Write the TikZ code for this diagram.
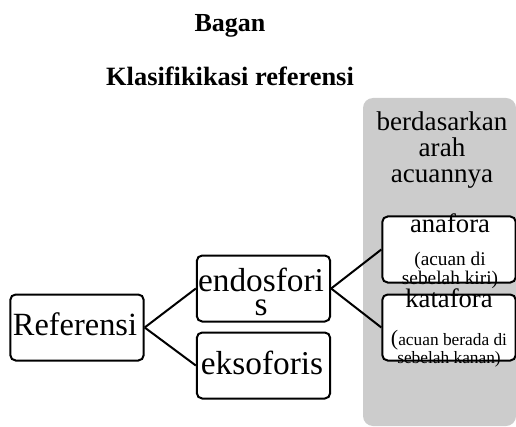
\documentclass[tikz,border=0pt]{standalone}
\usepackage{fontspec}
\setmainfont{Liberation Serif}
\definecolor{panelgray}{RGB}{204,204,204}
\lineskiplimit=-20pt
\tikzset{
  kotak/.style={draw, line width=1.5pt, rounded corners=4pt, fill=white,
    minimum width=100pt, minimum height=49.5pt, inner sep=0pt},
  teks/.style={inner sep=0pt, align=center},
  garis/.style={line width=1.5pt},
}
\begin{document}
\begin{tikzpicture}[x=0.75pt,y=-0.75pt]
      \useasboundingbox (0,0) rectangle (516,427);
      \fill[panelgray, rounded corners=7.5pt] (363,98) rectangle (516,426);
      % judul
      \node[anchor=base, font=\fontsize{19.5}{22}\selectfont\bfseries] (judul) at (230,32) {Bagan};
      \node[anchor=base, font=\fontsize{19.8}{22}\selectfont\bfseries] (subjudul) at (230,86) {Klasifikikasi referensi};
      \node[teks, anchor=north, font=\fontsize{20.3}{19.5}\selectfont] (arah) at (442,111.5) {berdasarkan\\arah\\acuannya};
      % kotak
      \node[kotak] (ref) at (77,327.5) {};
      \node[kotak] (endo) at (263.5,288.5) {};
      \node[kotak] (ekso) at (263.5,365.5) {};
      \node[kotak] (ana) at (449,249.5) {};
      \node[kotak] (kata) at (449,327.5) {};
      \draw[garis] (ref.east) -- (endo.west);
      \draw[garis] (ref.east) -- (ekso.west);
      \draw[garis] (endo.east) -- (ana.west);
      \draw[garis] (endo.east) -- (kata.west);
      % isi kotak
      \node[teks, anchor=base, font=\fontsize{24.3}{26}\selectfont] (ref-t) at (75,335) {Referensi};
      \node[teks, anchor=north, font=\fontsize{25}{18}\selectfont] (endo-t) at (261,267.5) {endosfori\\s};
      \node[teks, anchor=base, font=\fontsize{25}{26}\selectfont] (ekso-t) at (262,374) {eksoforis};
      \node[teks, anchor=north, font=\fontsize{14.5}{14}\selectfont] (ana-t) at (450,213.8)
        {{\fontsize{20}{20}\selectfont anafora}\\[10.5pt](acuan di\\sebelah kiri)};
      \node[teks, anchor=north, font=\fontsize{13}{13.5}\selectfont] (kata-t) at (449,288.8)
        {{\fontsize{20}{20}\selectfont katafora}\\[14.5pt]{\fontsize{16.5}{16.5}\selectfont(}acuan berada di\\sebelah kanan)};
    \end{tikzpicture}
\end{document}
